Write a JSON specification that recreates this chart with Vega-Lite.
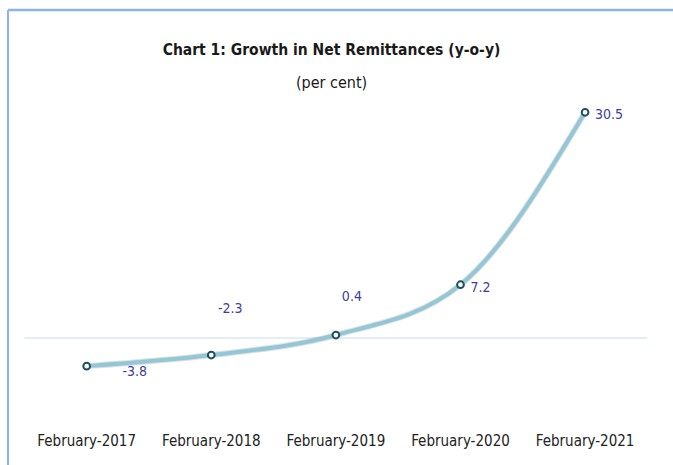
{
  "$schema": "https://vega.github.io/schema/vega-lite/v6.json",
  "width": 665,
  "height": 455,
  "autosize": {"type": "none"},
  "padding": {"left": 8, "top": 10, "right": 0, "bottom": 0},
  "background": "white",
  "view": {"stroke": null},
  "title": {
    "text": "Chart 1: Growth in Net Remittances (y-o-y)",
    "subtitle": "(per cent)",
    "font": "DejaVu Sans Condensed, Liberation Sans, sans-serif",
    "fontSize": 15.5,
    "fontWeight": "bold",
    "color": "#1a1a1a",
    "subtitleFont": "DejaVu Sans Condensed, Liberation Sans, sans-serif",
    "subtitleFontSize": 16,
    "subtitleColor": "#1a1a1a",
    "subtitlePadding": 16,
    "anchor": "middle",
    "dx": -9,
    "offset": -82
  },
  "datasets": {
    "main": [
      {"month": "February-2017", "value": -3.8},
      {"month": "February-2018", "value": -2.3},
      {"month": "February-2019", "value": 0.4},
      {"month": "February-2020", "value": 7.2},
      {"month": "February-2021", "value": 30.5}
    ],
    "zero": [{"start": "February-2017", "end": "February-2021", "v": 0}],
    "frame": [{"left": 0, "top": 44.32}]
  },
  "resolve": {"scale": {"x": "independent"}, "axis": {"x": "independent"}},
  "layer": [
    {
      "data": {"name": "frame"},
      "layer": [
        {
          "mark": {"type": "rule", "color": "#8db3e8", "strokeWidth": 2},
          "encoding": {
            "x": {"field": "left", "type": "quantitative", "scale": {"domain": [0, 1], "nice": false, "zero": false}, "axis": null}
          }
        },
        {
          "mark": {"type": "rule", "color": "#8db3e8", "strokeWidth": 2.5},
          "encoding": {
            "y": {"field": "top", "type": "quantitative", "scale": {"domain": [-17.16, 44.32], "nice": false, "zero": false}, "axis": null}
          }
        }
      ]
    },
    {
      "layer": [
        {
          "data": {"name": "zero"},
          "mark": {"type": "rule", "color": "#c6dcf0", "strokeWidth": 1},
          "encoding": {
            "x": {"field": "start", "type": "ordinal", "bandPosition": 0},
            "x2": {"field": "end", "bandPosition": 1},
            "y": {"field": "v", "type": "quantitative", "scale": {"domain": [-17.16, 44.32], "nice": false, "zero": false}, "axis": null}
          }
        },
        {
          "data": {"name": "main"},
          "layer": [
            {
              "mark": {"type": "line", "interpolate": "monotone", "color": "#8a8a8a", "strokeWidth": 6, "opacity": 0.28},
              "encoding": {}
            },
            {
              "mark": {"type": "line", "interpolate": "monotone", "color": "#92c7d7", "strokeWidth": 4},
              "encoding": {}
            },
            {
              "mark": {"type": "point", "filled": true, "fill": "white", "stroke": "#1d4f5c", "strokeWidth": 2, "size": 45, "opacity": 1},
              "encoding": {}
            },
            {
              "transform": [{"filter": "datum.month == 'February-2017'"}],
              "mark": {"type": "text", "font": "DejaVu Sans Condensed, Liberation Sans, sans-serif", "fontSize": 14, "color": "#3d3d9e", "align": "center", "baseline": "middle", "dx": 48, "dy": 6},
              "encoding": {"text": {"field": "value", "type": "nominal"}}
            },
            {
              "transform": [{"filter": "datum.month == 'February-2018'"}],
              "mark": {"type": "text", "font": "DejaVu Sans Condensed, Liberation Sans, sans-serif", "fontSize": 14, "color": "#3d3d9e", "align": "center", "baseline": "middle", "dx": 19, "dy": -46},
              "encoding": {"text": {"field": "value", "type": "nominal"}}
            },
            {
              "transform": [{"filter": "datum.month == 'February-2019'"}],
              "mark": {"type": "text", "font": "DejaVu Sans Condensed, Liberation Sans, sans-serif", "fontSize": 14, "color": "#3d3d9e", "align": "center", "baseline": "middle", "dx": 16, "dy": -38},
              "encoding": {"text": {"field": "value", "type": "nominal"}}
            },
            {
              "transform": [{"filter": "datum.month == 'February-2020' || datum.month == 'February-2021'"}],
              "mark": {"type": "text", "font": "DejaVu Sans Condensed, Liberation Sans, sans-serif", "fontSize": 14, "color": "#3d3d9e", "align": "left", "baseline": "middle", "dx": 10, "dy": 3},
              "encoding": {"text": {"field": "value", "type": "nominal"}}
            }
          ],
          "encoding": {
            "x": {"field": "month", "type": "ordinal"},
            "y": {"field": "value", "type": "quantitative", "scale": {"domain": [-17.16, 44.32], "nice": false, "zero": false}, "axis": null}
          }
        }
      ],
      "encoding": {
        "x": {"type": "ordinal",
              "scale": {"type": "band", "domain": ["February-2017", "February-2018", "February-2019", "February-2020", "February-2021"], "paddingInner": 0, "paddingOuter": 0.1685, "align": 0.39},
              "axis": {"title": null, "orient": "bottom", "offset": -34, "domain": false, "ticks": false, "grid": false, "labelAngle": 0, "labelAlign": "center", "labelBaseline": "top", "labelFont": "DejaVu Sans Condensed, Liberation Sans, sans-serif", "labelFontSize": 15, "labelColor": "#222222", "labelPadding": 2}}
      }
    }
  ]
}
